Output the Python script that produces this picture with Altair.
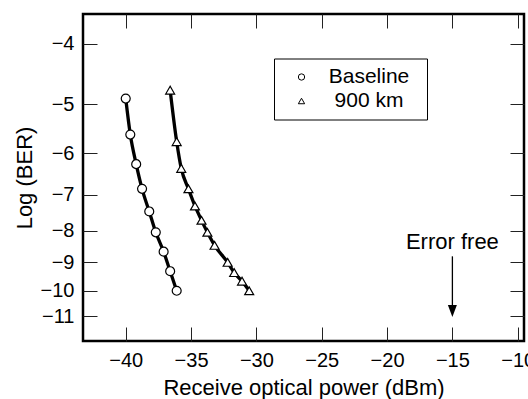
import altair as alt
import pandas as pd

# ---- data ----
series_names = ["Baseline", "900 km"]
base_power = [-40.0, -39.65, -39.2, -38.75, -38.2, -37.7, -37.1, -36.6, -36.1]
base_logber = [-4.9, -5.6, -6.25, -6.85, -7.45, -8.05, -8.65, -9.3, -10.0]
km900_power = [-36.6, -36.1, -35.75, -35.2, -34.7, -34.2, -33.75, -33.2, -32.2, -31.7, -31.1, -30.55]
km900_logber = [-4.75, -5.75, -6.35, -6.85, -7.3, -7.7, -8.05, -8.45, -9.0, -9.35, -9.65, -10.0]

x_ticks = [-40, -35, -30, -25, -20, -15, -10]
y_ticks = [-4, -5, -6, -7, -8, -9, -10, -11]

note_text = ["Error free"]
note_power = [-15]
note_logber = [-8.57]
arrow_power = [-15]
arrow_from = [-8.8]
arrow_to = [-10.6]
arrowhead_logber = [-10.78]

# ---- tables ----
rows = []
for p, b in zip(base_power, base_logber):
    rows.append({"series": series_names[0], "power": p, "q": -b})
for p, b in zip(km900_power, km900_logber):
    rows.append({"series": series_names[1], "power": p, "q": -b})
df = pd.DataFrame(rows)

note_df = pd.DataFrame({"power": note_power, "q": [-v for v in note_logber], "label": note_text})
arrow_df = pd.DataFrame({"power": arrow_power, "q": [-v for v in arrow_from], "q2": [-v for v in arrow_to]})
head_df = pd.DataFrame({"power": arrow_power, "q": [-v for v in arrowhead_logber]})

FONT = "Liberation Sans"
MINUS_EXPR = "replace(datum.label, '-', '\u2212')"

xs = alt.Scale(domain=[-43.27, -9.52], nice=False, zero=False)
ys = alt.Scale(type="log", domain=[3.58, 12.05], reverse=True, nice=False)
shape_scale = alt.Scale(domain=series_names, range=["circle", "triangle-up"])
y_tick_q = [-v for v in y_ticks]

x_main_axis = alt.Axis(
    orient="bottom", values=x_ticks, title="Receive optical power (dBm)",
    offset=-14, tickSize=14, domain=False, grid=False, labelPadding=9,
    labelFont=FONT, labelFontSize=20, labelColor="black",
    titleFont=FONT, titleFontSize=22, titleFontWeight="normal", titleColor="black",
    titlePadding=7, tickColor="#222", tickWidth=1, labelExpr=MINUS_EXPR,
)
y_main_axis = alt.Axis(
    orient="left", values=y_tick_q, title="Log (BER)",
    offset=-14, tickSize=14, domain=False, grid=False, labelPadding=9,
    labelFont=FONT, labelFontSize=20, labelColor="black",
    titleFont=FONT, titleFontSize=22, titleFontWeight="normal", titleColor="black",
    titlePadding=4, tickColor="#222", tickWidth=1,
    labelExpr="'\u2212' + datum.value",
)
x_top_axis = alt.Axis(
    orient="top", values=x_ticks, title=None, offset=-14, tickSize=14,
    domain=False, grid=False, labels=False, tickColor="#222", tickWidth=1,
)
y_right_axis = alt.Axis(
    orient="right", values=y_tick_q, title=None, offset=-14, tickSize=14,
    domain=False, grid=False, labels=False, tickColor="#222", tickWidth=1,
)

lines = alt.Chart(df).mark_line(
    color="black", strokeWidth=3.3, interpolate="monotone"
).encode(
    x=alt.X("power:Q", scale=xs, axis=x_main_axis),
    y=alt.Y("q:Q", scale=ys, axis=y_main_axis),
    detail="series:N",
)

# white discs under the outlined markers so the curve does not show through
point_bg = alt.Chart(df).mark_point(
    filled=True, color="white", size=80, opacity=1,
).encode(
    x=alt.X("power:Q", scale=xs, axis=None),
    y=alt.Y("q:Q", scale=ys, axis=None),
    shape=alt.Shape("series:N", scale=shape_scale, legend=None),
)

points = alt.Chart(df).mark_point(
    filled=False, color="black", strokeWidth=1.2, size=80, opacity=1,
).encode(
    x=alt.X("power:Q", scale=xs, axis=None),
    y=alt.Y("q:Q", scale=ys, axis=None),
    shape=alt.Shape(
        "series:N",
        scale=shape_scale,
        legend=alt.Legend(
            orient="none", legendX=191, legendY=44.5,
            title=" ", titleOrient="right", titlePadding=10,
            titleFontSize=21,
            strokeColor="black", fillColor="white", padding=8,
            labelFont=FONT, labelFontSize=21, labelColor="black",
            labelAlign="center", labelOffset=57,
            symbolSize=40, symbolOffset=9, symbolStrokeWidth=1,
            symbolStrokeColor="black", symbolOpacity=1, rowPadding=2,
        ),
    ),
)

arrow = alt.Chart(arrow_df).mark_rule(color="black", strokeWidth=1.3).encode(
    x=alt.X("power:Q", scale=xs, axis=x_top_axis),
    y=alt.Y("q:Q", scale=ys, axis=y_right_axis),
    y2="q2:Q",
)

head = alt.Chart(head_df).mark_point(
    shape="M-0.75,-1L0.75,-1L0,1Z", size=144, filled=True,
    color="black", opacity=1,
).encode(
    x=alt.X("power:Q", scale=xs, axis=None),
    y=alt.Y("q:Q", scale=ys, axis=None),
)

note = alt.Chart(note_df).mark_text(
    font=FONT, fontSize=22, color="black", align="center", baseline="alphabetic"
).encode(
    x=alt.X("power:Q", scale=xs, axis=None),
    y=alt.Y("q:Q", scale=ys, axis=None),
    text="label:N",
)

chart = alt.layer(lines, point_bg, points, arrow, head, note).resolve_axis(
    x="independent", y="independent"
).resolve_legend(
    shape="independent"
).properties(
    width=441, height=327,
    autosize=alt.AutoSizeParams(type="none"),
    padding={"left": 83, "top": 14, "right": 4, "bottom": 58},
    background="white",
).configure_view(
    stroke="black", strokeWidth=2.5
)

chart.save("out.html", embed_options={"renderer": "svg", "actions": False})
